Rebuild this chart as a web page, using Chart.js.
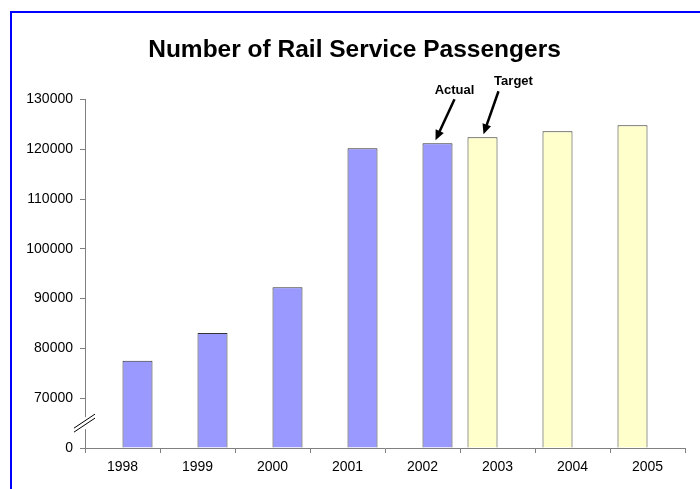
<!DOCTYPE html>
<html>
<head>
<meta charset="utf-8">
<script src="https://cdn.jsdelivr.net/npm/chart.js@4/dist/chart.umd.min.js"></script>
<style>
  html, body { margin: 0; padding: 0; background: #fff; overflow: hidden; }
  #frame { position: absolute; left: 10px; top: 11px; width: 800px; height: 600px; border: 2px solid #0000ff; }
  #wrap { position: absolute; left: 0; top: 0; width: 720px; height: 489px; }
</style>
</head>
<body>
<div id="frame"></div>
<div id="wrap"><canvas id="railChart" width="720" height="489"></canvas></div>
<script>
const years = ['1998', '1999', '2000', '2001', '2002', '2003', '2004', '2005'];
const actualPassengers = [77500, 83100, 92300, 120200, 121200, null, null, null];
const targetPassengers = [null, null, null, null, null, 122400, 123600, 124800];
const yTickValues = [0, 70000, 80000, 90000, 100000, 110000, 120000, 130000];

// axis is broken between 0 and 70000: one step stands for the whole gap
const breakFrom = 60000;
const toAxis = v => (v === null ? null : v - breakFrom);

const FONT = 'Arial, "Liberation Sans", sans-serif';

const ctx = document.getElementById('railChart').getContext('2d');

const annotations = {
  id: 'annotations',
  afterDraw(chart) {
    const c = chart.ctx;
    const yScale = chart.scales.y;
    const axisX = chart.chartArea.left;

    // axis break mark
    const yb = yScale.getPixelForValue(5000);
    c.save();
    c.fillStyle = '#fff';
    c.fillRect(axisX - 3, yb - 6, 6, 12);
    c.strokeStyle = '#000';
    c.lineWidth = 1;
    [-2, 2].forEach(off => {
      c.beginPath();
      c.moveTo(axisX - 11, yb + 7 + off);
      c.lineTo(axisX + 10, yb - 7 + off);
      c.stroke();
    });
    c.restore();

    // arrows pointing at the last actual and first target bar
    const actBar = chart.getDatasetMeta(1).data[4];
    const tgtBar = chart.getDatasetMeta(0).data[5];
    drawArrow(c, actBar.x + 17, actBar.y - 44, actBar.x - 2, actBar.y - 3);
    drawArrow(c, tgtBar.x + 16, tgtBar.y - 46, tgtBar.x + 1, tgtBar.y - 3);

    c.save();
    c.fillStyle = '#000';
    c.font = 'bold 13px ' + FONT;
    c.textAlign = 'center';
    c.textBaseline = 'middle';
    c.fillText('Actual', actBar.x + 17, actBar.y - 53);
    c.fillText('Target', tgtBar.x + 31, tgtBar.y - 56);
    c.restore();
  }
};

function drawArrow(c, x1, y1, x2, y2) {
  const ang = Math.atan2(y2 - y1, x2 - x1);
  const head = 10;
  c.save();
  c.strokeStyle = '#000';
  c.fillStyle = '#000';
  c.lineWidth = 2.5;
  c.beginPath();
  c.moveTo(x1, y1);
  c.lineTo(x2 - Math.cos(ang) * head * 0.8, y2 - Math.sin(ang) * head * 0.8);
  c.stroke();
  c.beginPath();
  c.moveTo(x2, y2);
  c.lineTo(x2 - head * Math.cos(ang) + 4.5 * Math.sin(ang), y2 - head * Math.sin(ang) - 4.5 * Math.cos(ang));
  c.lineTo(x2 - head * Math.cos(ang) - 4.5 * Math.sin(ang), y2 - head * Math.sin(ang) + 4.5 * Math.cos(ang));
  c.closePath();
  c.fill();
  c.restore();
}

const railChart = new Chart(ctx, {
  type: 'bar',
  data: {
    labels: years,
    datasets: [{
      label: 'Target',
      data: targetPassengers.map(toAxis),
      backgroundColor: '#ffffcc',
      borderColor: '#333333',
      borderWidth: 1,
      categoryPercentage: 0.8,
      barPercentage: 1.0
    }, {
      label: 'Actual',
      data: actualPassengers.map(toAxis),
      backgroundColor: '#9999ff',
      borderColor: '#333333',
      borderWidth: 1,
      categoryPercentage: 0.8,
      barPercentage: 1.0
    }]
  },
  options: {
    responsive: false,
    animation: false,
    layout: { padding: { left: 24, right: 35, top: 0, bottom: 0 } },
    scales: {
      x: {
        grid: { display: true, drawOnChartArea: false, offset: true, tickLength: 5, color: '#808080' },
        border: { color: '#808080', width: 1 },
        ticks: { color: '#000', font: { family: FONT, size: 14 }, padding: 6 },
        afterFit(scale) { scale.height = 41; }
      },
      y: {
        min: 0,
        max: 70000,
        afterBuildTicks(scale) {
          scale.ticks = yTickValues.map(v => ({ value: v === 0 ? 0 : v - breakFrom }));
        },
        grid: { display: true, drawOnChartArea: false, tickLength: 5, color: '#808080' },
        border: { color: '#808080', width: 1 },
        ticks: {
          color: '#000',
          font: { family: FONT, size: 14 },
          padding: 7,
          callback: value => (value === 0 ? '0' : String(value + breakFrom))
        },
        afterFit(scale) { scale.width = 61; }
      }
    },
    plugins: {
      legend: { display: false },
      tooltip: { enabled: false },
      title: {
        display: true,
        text: 'Number of Rail Service Passengers',
        color: '#000',
        font: { family: FONT, size: 24.5, weight: 'bold' },
        padding: { top: 36, bottom: 34 }
      }
    }
  },
  plugins: [annotations]
});
</script>
</body>
</html>
